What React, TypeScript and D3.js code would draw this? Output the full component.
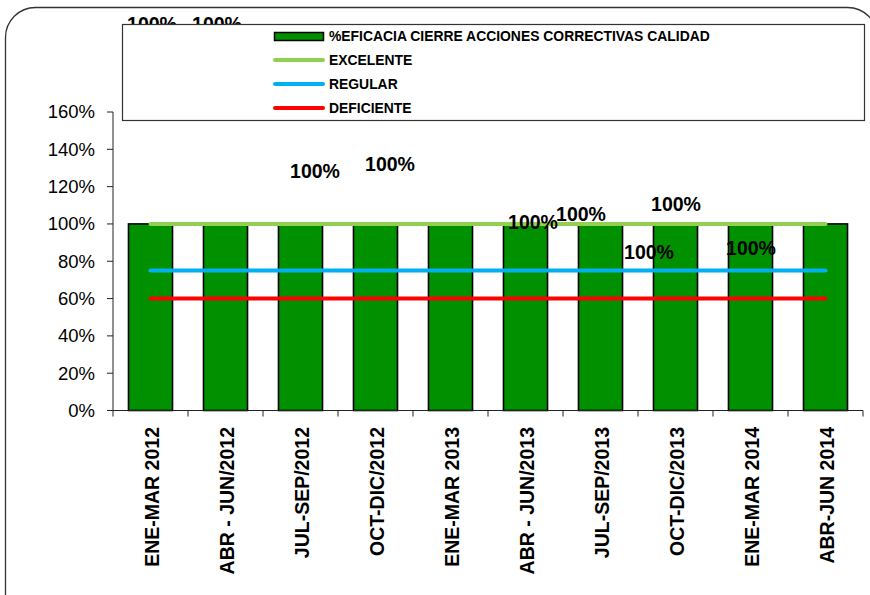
import React from "react";
import * as d3 from "d3";

const categories = [
  "ENE-MAR 2012",
  "ABR - JUN/2012",
  "JUL-SEP/2012",
  "OCT-DIC/2012",
  "ENE-MAR 2013",
  "ABR - JUN/2013",
  "JUL-SEP/2013",
  "OCT-DIC/2013",
  "ENE-MAR 2014",
  "ABR-JUN 2014",
];
const eficacia = [1, 1, 1, 1, 1, 1, 1, 1, 1, 1];
const excelente = [1, 1, 1, 1, 1, 1, 1, 1, 1, 1];
const regular = [0.75, 0.75, 0.75, 0.75, 0.75, 0.75, 0.75, 0.75, 0.75, 0.75];
const deficiente = [0.6, 0.6, 0.6, 0.6, 0.6, 0.6, 0.6, 0.6, 0.6, 0.6];
const yTicks = [0, 0.2, 0.4, 0.6, 0.8, 1.0, 1.2, 1.4, 1.6];
// data-label anchors (as manually placed in the source): band index and value
const labelAnchorIndex = [0.02, 0.887, 2.193, 3.193, 4.0, 5.1, 5.74, 6.647, 7.007, 8.007];
const labelAnchorValue = [2.035, 2.035, 1.247, 1.284, 1.85, 0.973, 1.016, 0.812, 1.071, 0.834];
const legendItems = [
  { name: "%EFICACIA CIERRE ACCIONES CORRECTIVAS CALIDAD", kind: "bar", color: "#009000" },
  { name: "EXCELENTE", kind: "line", color: "#92D050" },
  { name: "REGULAR", kind: "line", color: "#00B0F0" },
  { name: "DEFICIENTE", kind: "line", color: "#FF0000" },
];

const W = 870;
const H = 595;
const FONT = "'Liberation Sans', Arial, Helvetica, sans-serif";

export default function App() {
  const x0 = 113;
  const x1 = 863;
  const yBottom = 410.5;
  const yTop = 112;

  const x = d3
    .scaleBand<string>()
    .domain(categories)
    .range([x0, x1])
    .paddingInner(0.413)
    .paddingOuter(0.2065);
  const step = x.step();
  const y = d3.scaleLinear().domain([0, 1.6]).range([yBottom, yTop]);
  const cx = (i: number) => (x(categories[i]) as number) + x.bandwidth() / 2;
  const cxf = (f: number) => x0 + step * (f + 0.5);

  const line = d3
    .line<number>()
    .x((_, i) => cx(i))
    .y((d) => y(d));

  const seriesLines = [
    { data: excelente, color: "#92D050" },
    { data: regular, color: "#00B0F0" },
    { data: deficiente, color: "#FF0000" },
  ];

  const legendRows = [36.5, 60, 84, 108];

  return (
    <div style={{ position: "absolute", left: 0, top: 0, width: W, height: H, overflow: "hidden" }}>
      <svg width={W} height={H} style={{ display: "block", background: "#fff" }} fontFamily={FONT}>
        <rect x={0} y={0} width={W} height={H} fill="#fff" />
        {/* outer rounded frame */}
        <rect x={5.5} y={7.5} width={872} height={700} rx={30} ry={30} fill="none" stroke="#333" strokeWidth={1.3} />

        {/* bars */}
        {eficacia.map((v, i) => (
          <rect
            key={"b" + i}
            x={x(categories[i]) as number}
            y={y(v)}
            width={x.bandwidth()}
            height={yBottom - y(v)}
            fill="#009000"
            stroke="#000"
            strokeWidth={1.6}
          />
        ))}

        {/* axes */}
        <line x1={x0} x2={x0} y1={yTop} y2={yBottom} stroke="#222" strokeWidth={1} />
        {yTicks.map((t) => (
          <g key={"yt" + t}>
            <line x1={x0 - 6} x2={x0} y1={y(t)} y2={y(t)} stroke="#222" strokeWidth={1} />
            <text x={95} y={y(t)} dy="0.35em" textAnchor="end" fontSize={18.5} fill="#000">
              {d3.format(".0%")(t)}
            </text>
          </g>
        ))}
        <line x1={x0} x2={x1} y1={yBottom} y2={yBottom} stroke="#222" strokeWidth={1} />
        {d3.range(categories.length + 1).map((i) => (
          <line
            key={"xt" + i}
            x1={x0 + i * step}
            x2={x0 + i * step}
            y1={yBottom}
            y2={yBottom + 6}
            stroke="#222"
            strokeWidth={1}
          />
        ))}
        {categories.map((c, i) => (
          <text
            key={"xl" + i}
            transform={`translate(${cx(i) + 1.5},${427}) rotate(-90)`}
            dy="0.35em"
            textAnchor="end"
            fontSize={19.5}
            fontWeight="bold"
            fill="#000"
          >
            {c}
          </text>
        ))}

        {/* reference lines */}
        {seriesLines.map((s, k) => (
          <path
            key={"l" + k}
            d={line(s.data) as string}
            fill="none"
            stroke={s.color}
            strokeWidth={4}
            strokeLinecap="round"
          />
        ))}

        {/* data labels */}
        {eficacia.map((v, i) => (
          <text
            key={"dl" + i}
            x={cxf(labelAnchorIndex[i])}
            y={y(labelAnchorValue[i])}
            textAnchor="middle"
            fontSize={19.5}
            fontWeight="bold"
            fill="#000"
          >
            {d3.format(".0%")(v)}
          </text>
        ))}

        {/* legend */}
        <rect x={122.5} y={24.5} width={742} height={96} fill="#fff" stroke="#333" strokeWidth={1.2} />
        {legendItems.map((it, i) => (
          <g key={"lg" + i}>
            {it.kind === "bar" ? (
              <rect x={274.5} y={legendRows[i] - 4} width={49} height={8} fill={it.color} stroke="#000" strokeWidth={1.5} />
            ) : (
              <line
                x1={275}
                x2={323}
                y1={legendRows[i]}
                y2={legendRows[i]}
                stroke={it.color}
                strokeWidth={4}
                strokeLinecap="round"
              />
            )}
            <text x={329} y={legendRows[i]} dy="0.35em" fontSize={13.9} fontWeight="bold" fill="#000">
              {it.name}
            </text>
          </g>
        ))}
      </svg>
    </div>
  );
}
